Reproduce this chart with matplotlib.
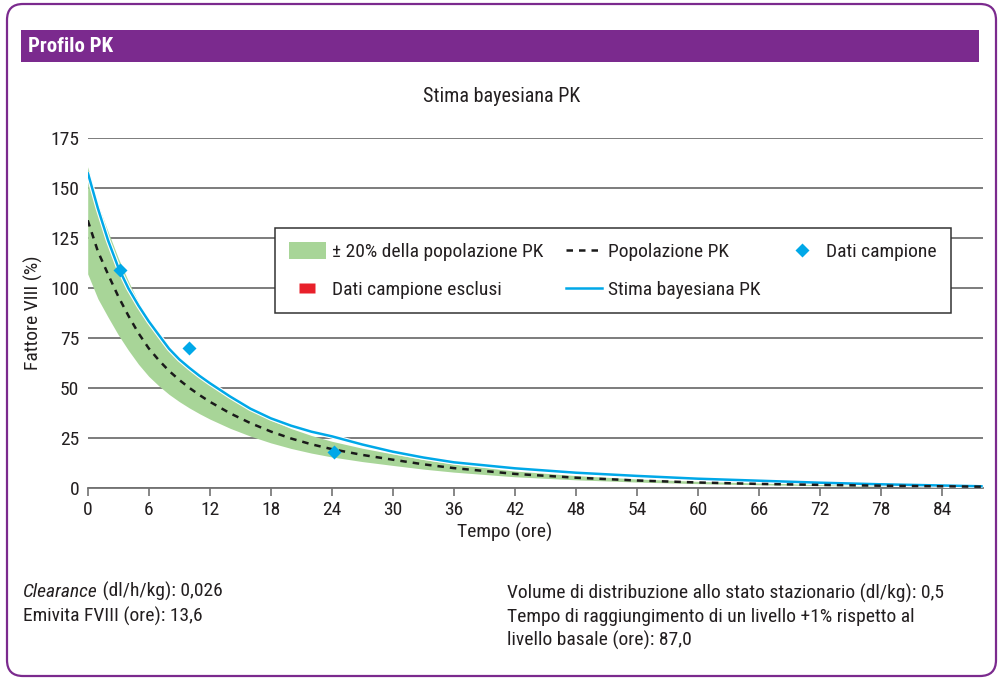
import matplotlib
matplotlib.use("Agg")
import matplotlib.pyplot as plt
from matplotlib import font_manager as fm
from matplotlib.patches import FancyBboxPatch, Rectangle, Patch
from matplotlib.lines import Line2D
import matplotlib.patheffects as pe

_avail = {f.name for f in fm.fontManager.ttflist}
_pref = [f for f in ['Roboto Condensed', 'Archivo Narrow', 'PT Sans Narrow', 'Liberation Sans'] if f in _avail]
plt.rcParams['font.family'] = _pref + ['DejaVu Sans']

# ---------------- data ----------------
time_h = [0, 1, 2, 3, 4, 5, 6, 7, 8, 9, 10, 11, 12, 14, 16, 18, 20, 22, 24, 27, 30, 33, 36,
          42, 48, 54, 60, 66, 72, 78, 84, 88]
pop_pk = [134, 118.5, 107, 96, 86.3, 77.5, 70, 64, 58.7, 54.2, 50.2, 46.6, 43.3, 37.5, 32.6, 28.4,
          24.9, 22.0, 19.6, 16.7, 14.3, 12.0, 10.1, 7.2, 5.3, 3.9, 2.9, 2.2, 1.7, 1.3, 1.0, 0.8]
bayes_pk = [158, 140, 124, 110.5, 100, 91.3, 83.5, 76.6, 69.8, 64.5, 60.2, 56.2, 52.6, 45.9, 39.8,
            35.0, 31.3, 28.3, 26.0, 21.9, 18.3, 15.4, 13.0, 10.0, 7.8, 6.2, 4.8, 3.8, 2.8, 2.0, 1.4, 1.0]
band_frac = 0.20  # +/- 20% of population PK (legend)
sample_t = [3.2, 10.0, 24.2]
sample_v = [109, 70.3, 18.3]
xticks = list(range(0, 85, 6))
yticks = [0, 25, 50, 75, 100, 125, 150, 175]

band_lo = [v * (1 - band_frac) for v in pop_pk]
band_hi = [v * (1 + band_frac) for v in pop_pk]

PURPLE = '#7B2A8E'
GREEN = '#A8D598'
BLUE = '#00A8E8'
RED = '#E8202A'
GRID = '#727272'
TXT = '#231F20'

fig = plt.figure(figsize=(10, 6.79), dpi=100)

# background / frame in pixel coordinates
bg = fig.add_axes([0, 0, 1, 1], zorder=0)
bg.set_xlim(0, 1000)
bg.set_ylim(679, 0)
bg.axis('off')
bg.add_patch(FancyBboxPatch((7, 4), 989, 672, boxstyle='round,pad=0,rounding_size=16',
                            fc='white', ec=PURPLE, lw=1.6))
bg.add_patch(Rectangle((21, 30), 958, 32, fc=PURPLE, ec='none'))
bg.text(28, 46.5, 'Profilo PK', color='white', fontsize=15, fontweight='bold', va='center', ha='left')
bg.text(502, 96, 'Stima bayesiana PK', fontsize=14.5, color=TXT, ha='center', va='center')

# bottom parameter text
t1 = bg.text(23, 592, 'Clearance', fontsize=14, style='italic', color=TXT, va='center', ha='left')
bg.annotate(' (dl/h/kg): 0,026', xy=(1, 0), xycoords=t1, va='bottom', ha='left', fontsize=14, color=TXT)
bg.text(23, 616.5, 'Emivita FVIII (ore): 13,6', fontsize=14, color=TXT, va='center', ha='left')
bg.text(507, 593, 'Volume di distribuzione allo stato stazionario (dl/kg): 0,5', fontsize=14, color=TXT,
        va='center', ha='left')
bg.text(507, 617, 'Tempo di raggiungimento di un livello +1% rispetto al', fontsize=14, color=TXT,
        va='center', ha='left')
bg.text(507, 640.5, 'livello basale (ore): 87,0', fontsize=14, color=TXT, va='center', ha='left')

# main axes
ax = fig.add_axes([0.0877, 1 - 488.3 / 679, 0.895, 350 / 679], zorder=1)
ax.patch.set_alpha(0)
ax.set_xlim(0, 88)
ax.set_ylim(0, 175)
ax.set_xticks(xticks)
ax.set_yticks(yticks)
ax.yaxis.grid(True, color=GRID, lw=1.3, zorder=0)
ax.set_axisbelow(True)
for s in ['top', 'right', 'left']:
    ax.spines[s].set_visible(False)
ax.spines['bottom'].set_color(GRID)
ax.spines['bottom'].set_linewidth(1.3)
ax.tick_params(axis='y', length=0, pad=6, labelsize=14, labelcolor=TXT)
ax.tick_params(axis='x', length=6, width=1.2, color=GRID, pad=3, labelsize=14, labelcolor=TXT)

ax.fill_between(time_h, band_lo, band_hi, color=GREEN, lw=0, zorder=2)
ax.plot(time_h, bayes_pk, color=BLUE, lw=1.8, zorder=3, solid_capstyle='butt',
        path_effects=[pe.Stroke(linewidth=3.4, foreground='white'), pe.Normal()])
ax.plot(time_h, pop_pk, color='#1a1a1a', lw=1.8, ls=(0, (2.6, 2.4)), zorder=4)
ax.plot(sample_t, sample_v, ls='none', marker='D', ms=7.5, color=BLUE, mec='none', zorder=5)

ax.set_xlabel('Tempo (ore)', fontsize=14, color=TXT)
ax.xaxis.set_label_coords((505 - 87.7) / 895, (488.3 - 532) / 350)
ax.xaxis.label.set_va('center')
ax.set_ylabel('Fattore VIII (%)', fontsize=14, color=TXT)
ax.yaxis.set_label_coords((33.3 - 87.7) / 895, (488.3 - 313) / 350)
ax.yaxis.label.set_va('center')

# legend
rect_marker = [(-1.3, -0.85), (1.3, -0.85), (1.3, 0.85), (-1.3, 0.85), (-1.3, -0.85)]
h_band = Patch(facecolor=GREEN, edgecolor='none')
h_excl = Line2D([], [], ls='none', marker=rect_marker, ms=11, color=RED, mec='none')
h_pop = Line2D([], [], color='#1a1a1a', lw=1.8, ls=(0, (2.6, 2.4)))
h_bayes = Line2D([], [], color=BLUE, lw=1.8)
h_samp = Line2D([], [], ls='none', marker='D', ms=7.5, color=BLUE, mec='none')
leg = ax.legend([h_band, h_excl, h_pop, h_bayes, h_samp],
                ['\u00b1 20% della popolazione PK', 'Dati campione esclusi', 'Popolazione PK',
                 'Stima bayesiana PK', 'Dati campione'],
                ncol=3, loc='upper left', bbox_to_anchor=(275 / 1000, 1 - 228 / 679),
                bbox_transform=fig.transFigure, borderaxespad=0, fontsize=14,
                frameon=True, fancybox=False, framealpha=1, edgecolor='#333333',
                handlelength=1.9, handleheight=1.0, handletextpad=0.3, columnspacing=1.15,
                labelspacing=0.95, borderpad=0.72)
leg.get_frame().set_linewidth(1.1)
for t in leg.get_texts():
    t.set_color(TXT)
leg.set_zorder(6)

fig.savefig('out.png', dpi=100)
